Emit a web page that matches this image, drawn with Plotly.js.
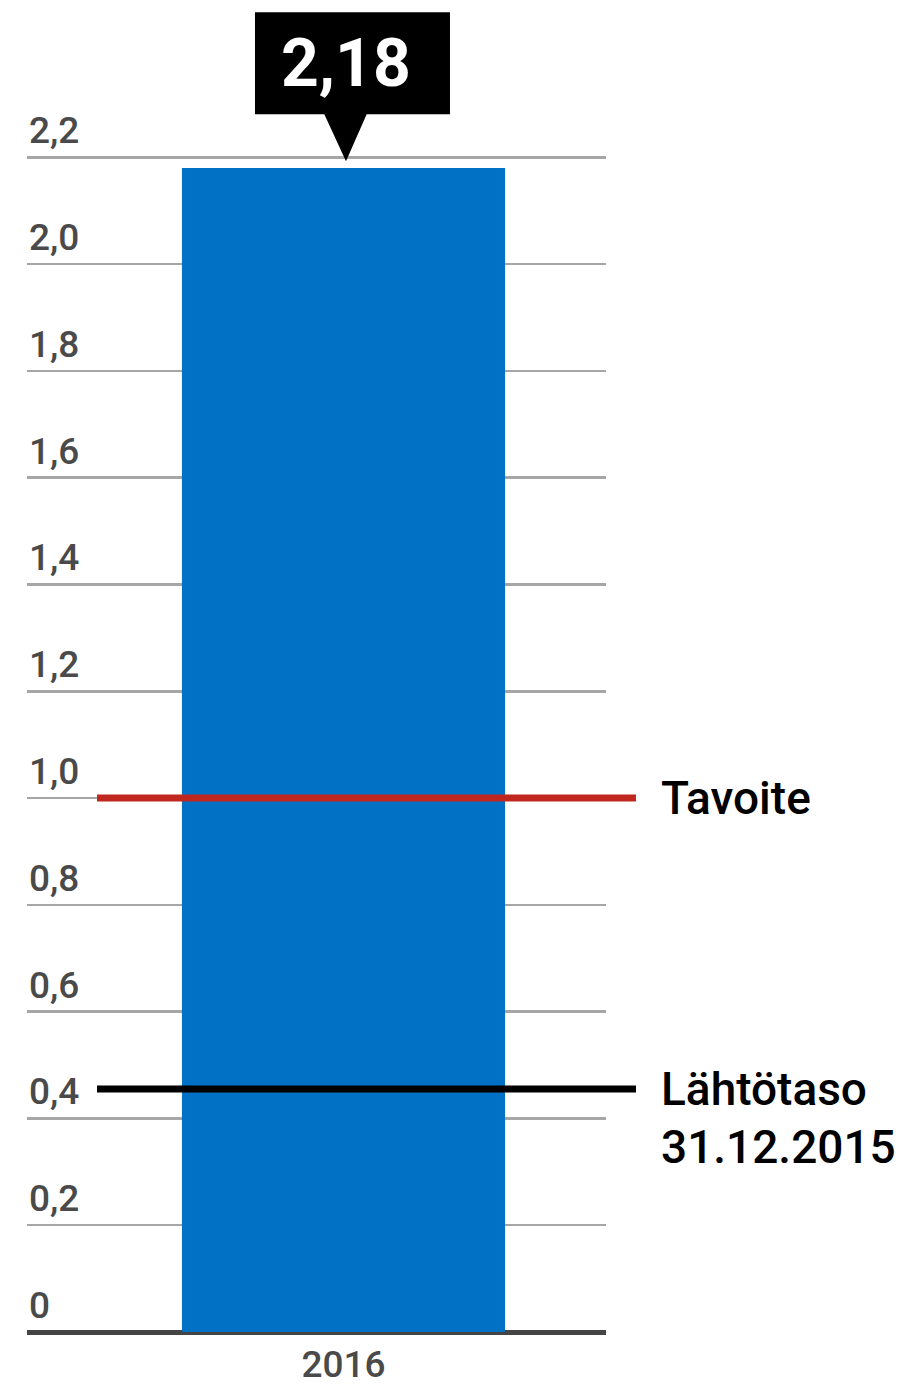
<!DOCTYPE html>
<html><head><meta charset="utf-8">
<script src="https://cdn.plot.ly/plotly-3.0.1.min.js"></script>
<style>html,body{margin:0;padding:0;background:#fff}#chart{width:905px;height:1384px}</style>
</head><body><div id="chart"></div>
<script>
// ---- data ----
const categories = ['2016'];
const values = [2.18];
const tickValues = [0, 0.2, 0.4, 0.6, 0.8, 1.0, 1.2, 1.4, 1.6, 1.8, 2.0, 2.2];
const tickLabels = ['0', '0,2', '0,4', '0,6', '0,8', '1,0', '1,2', '1,4', '1,6', '1,8', '2,0', '2,2'];
const refNames = ['Tavoite', 'Lähtötaso'];
const refSubtitles = ['', '31.12.2015'];
const refValues = [1.0, 0.455];

// ---- styles ----
const refColors = ['#c0281f', '#000000'];
const FONT = 'Roboto, "Open Sans", sans-serif';
const W = 905, H = 1384;
const Y_RANGE = [0, 2.21];
const X_RANGE = [-0.5466, 0.4534];
const M = {l: 27, r: 299, t: 152, b: 52};
const plotW = W - M.l - M.r;
const plotH = H - M.t - M.b;
const px2paper = p => (p - M.l) / plotW;
const yPaper = v => (v - Y_RANGE[0]) / (Y_RANGE[1] - Y_RANGE[0]);
const xPaperIdx = i => (i - X_RANGE[0]) / (X_RANGE[1] - X_RANGE[0]);

const fmt = v => String(v).replace('.', ',');

const shapes = [];
const annotations = [];

// y tick labels above gridlines
tickValues.forEach((v, i) => {
  annotations.push({
    xref: 'paper', yref: 'y', x: 0, y: v, xanchor: 'left', yanchor: 'bottom',
    yshift: 3, showarrow: false, text: tickLabels[i],
    font: {family: FONT, size: 37, color: '#4a4a4a', weight: 500}
  });
});

// reference lines
refValues.forEach((v, i) => {
  shapes.push({
    type: 'line', xref: 'paper', yref: 'y',
    x0: px2paper(97), x1: px2paper(636), y0: v, y1: v,
    line: {color: refColors[i], width: 7}, layer: 'above'
  });
  annotations.push({
    xref: 'paper', yref: 'y', x: px2paper(659), y: v, xanchor: 'left', yanchor: 'middle',
    showarrow: false, text: refNames[i],
    font: {family: FONT, size: 46, color: '#000', weight: 500}
  });
  if (refSubtitles[i]) {
    annotations.push({
      xref: 'paper', yref: 'y', x: px2paper(659), y: v, xanchor: 'left', yanchor: 'middle',
      yshift: -58, showarrow: false, text: refSubtitles[i],
      font: {family: FONT, size: 46, color: '#000', weight: 500}
    });
  }
});

// callout above bar, positioned from the bar's value and category (paper refs so it is not clipped)
values.forEach((v, i) => {
  const cx = xPaperIdx(i), cy = yPaper(v);
  const dx = p => cx + p / plotW;
  const dy = p => cy + p / plotH;
  shapes.push({
    type: 'rect', xref: 'paper', yref: 'paper',
    x0: dx(-88.5), x1: dx(106.5), y0: dy(53.7), y1: dy(155.7),
    fillcolor: '#000', line: {width: 0}, layer: 'above'
  });
  shapes.push({
    type: 'path', xref: 'paper', yref: 'paper',
    path: `M ${dx(-19.5)},${dy(54.5)} L ${dx(23.5)},${dy(54.5)} L ${dx(2.5)},${dy(6.7)} Z`,
    fillcolor: '#000', line: {width: 0}, layer: 'above'
  });
  annotations.push({
    xref: 'paper', yref: 'paper', x: dx(2.5), y: dy(105), xanchor: 'center', yanchor: 'middle',
    showarrow: false, text: '<b>' + fmt(v) + '</b>',
    font: {family: FONT, size: 66, color: '#fff'}
  });
});

const trace = {
  type: 'bar', x: categories, y: values, width: 0.558,
  marker: {color: '#0071c5', line: {width: 0}},
  hoverinfo: 'skip'
};

const layout = {
  width: W, height: H, margin: M,
  paper_bgcolor: '#fff', plot_bgcolor: '#fff',
  showlegend: false,
  xaxis: {
    type: 'category', range: X_RANGE, showgrid: false, zeroline: false,
    showline: false, ticks: '', fixedrange: true, ticklabelstandoff: 7,
    tickfont: {family: FONT, size: 37, color: '#4a4a4a', weight: 500}
  },
  yaxis: {
    range: Y_RANGE, tickvals: tickValues, ticktext: tickLabels, showticklabels: false,
    showgrid: true, gridcolor: '#a6a6a6', gridwidth: 2.5,
    zeroline: true, zerolinecolor: '#444444', zerolinewidth: 5,
    showline: false, ticks: '', fixedrange: true
  },
  shapes: shapes,
  annotations: annotations,
  font: {family: FONT}
};

Plotly.newPlot('chart', [trace], layout, {displayModeBar: false, staticPlot: true});
</script>
</body></html>
